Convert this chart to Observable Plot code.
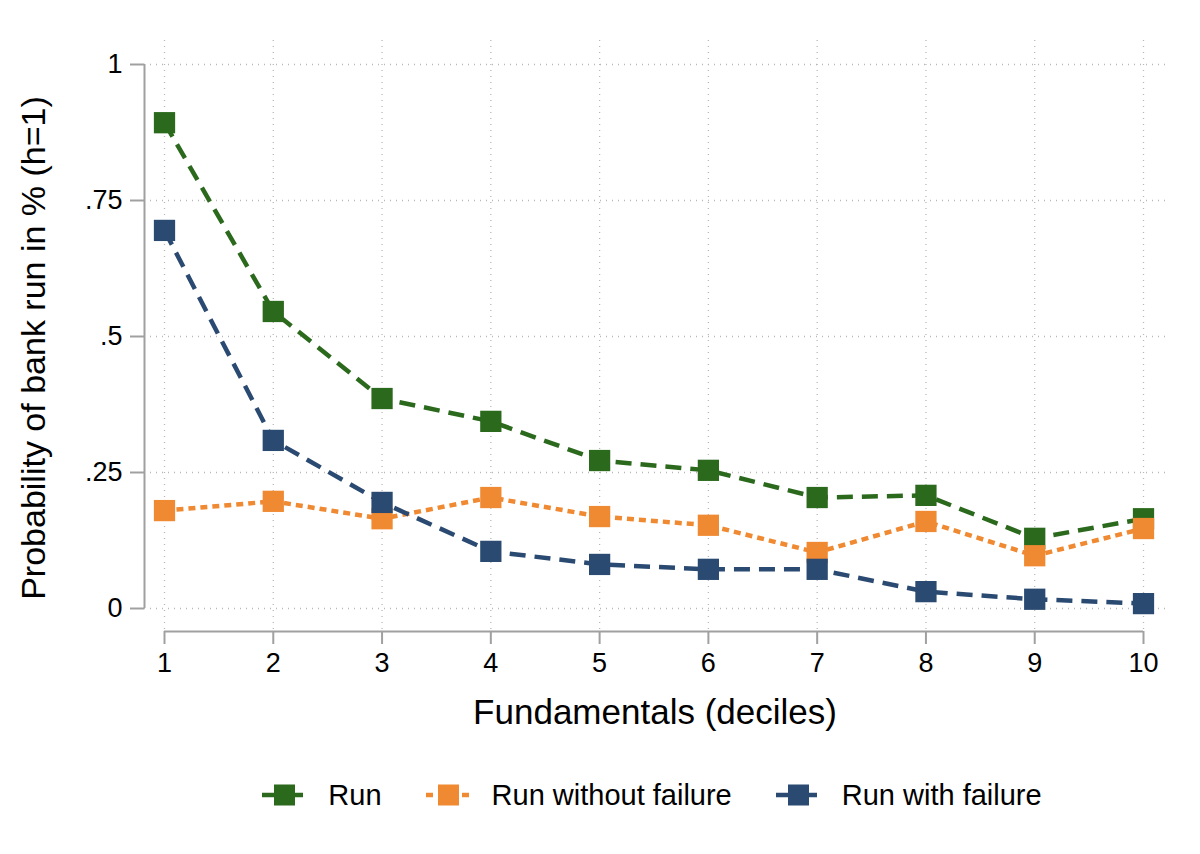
<!DOCTYPE html>
<html><head><meta charset="utf-8">
<script src="https://cdn.jsdelivr.net/npm/d3@7"></script>
<script src="https://cdn.jsdelivr.net/npm/@observablehq/plot@0.6"></script>
<style>
body{margin:0;background:#fff;font-family:"Liberation Sans",Arial,sans-serif;}
#chart svg{display:block}
#legend{display:flex;justify-content:center;margin-top:25px;font-size:29px;color:#000;height:60px;align-items:center;padding-left:104px}
.item{display:flex;align-items:center;margin:0 22px}
.item svg{margin-right:20px}
</style></head>
<body>
<div id="chart"></div>
<div id="legend"></div>
<script>
const deciles = [1,2,3,4,5,6,7,8,9,10];
const run = [0.893,0.546,0.386,0.344,0.272,0.254,0.204,0.208,0.129,0.165];
const runNoFail = [0.180,0.197,0.165,0.204,0.169,0.153,0.103,0.160,0.097,0.147];
const runFail = [0.695,0.309,0.195,0.105,0.081,0.072,0.072,0.031,0.017,0.009];
const yTicks = [0,0.25,0.5,0.75,1];
const yTickLabels = ["0",".25",".5",".75","1"];
const seriesNames = ["Run","Run without failure","Run with failure"];
const colors = ["#2b691d","#f08a32","#2a4a72"];
const dashes = ["16,9","7,5","16,9"];

const seriesVals = [run, runNoFail, runFail];
const data = seriesVals.flatMap((vals,i)=>vals.map((v,j)=>({s:seriesNames[i],x:deciles[j],y:v})));

const grid = {stroke:"#b8b8b8", strokeOpacity:1, strokeDasharray:"1,5", strokeWidth:1.3};
const chart = Plot.plot({
  width:1200, height:740,
  marginLeft:144, marginRight:35, marginTop:40, marginBottom:109,
  style:{fontFamily:"'Liberation Sans', Arial, sans-serif", background:"#fff", color:"#000"},
  x:{domain:[1,10], insetLeft:20, insetRight:22},
  y:{domain:[0,1], insetTop:24, insetBottom:23},
  marks:[
    Plot.gridX(deciles, {...grid}),
    Plot.gridY(yTicks, {...grid}),
    Plot.ruleX([1], {y1:0, y2:1, dx:-20, stroke:"#a0a0a0", strokeWidth:2}),
    Plot.ruleY([0], {x1:1, x2:10, dy:23, stroke:"#a0a0a0", strokeWidth:2}),
    Plot.axisY(yTicks, {tickFormat:()=>"", tickSize:14, stroke:"#a0a0a0", strokeWidth:2, label:null}),
    Plot.axisX(deciles, {tickFormat:()=>"", tickSize:13, stroke:"#a0a0a0", strokeWidth:2, label:null}),
    Plot.text(yTicks, {x:()=>1, y:d=>d, text:(d,i)=>yTickLabels[i], dx:-42, textAnchor:"end", lineAnchor:"middle", fontSize:27, fill:"#000"}),
    Plot.text(deciles, {x:d=>d, y:()=>0, text:d=>String(d), dy:55, textAnchor:"middle", lineAnchor:"middle", fontSize:27, fill:"#000"}),
    Plot.text(["Probability of bank run in % (h=1)"], {frameAnchor:"left", textAnchor:"middle", lineAnchor:"middle", rotate:-90, dx:-110, dy:12, fontSize:34, fill:"#000"}),
    Plot.text(["Fundamentals (deciles)"], {frameAnchor:"bottom", textAnchor:"middle", lineAnchor:"middle", dy:81, fontSize:35, fill:"#000"}),
    ...seriesNames.map((name,i)=>Plot.line(data.filter(d=>d.s===name), {x:"x", y:"y", stroke:colors[i], strokeWidth:4.5, strokeDasharray:dashes[i], strokeLinecap:"butt"})),
    ...seriesNames.map((name,i)=>Plot.dot(data.filter(d=>d.s===name), {x:"x", y:"y", symbol:"square", r:12, fill:colors[i], stroke:"none"}))
  ]
});
document.getElementById("chart").appendChild(chart);

const legend = document.getElementById("legend");
seriesNames.forEach((name,i)=>{
  const item = document.createElement("div");
  item.className="item";
  item.innerHTML = `<svg width="46" height="24"><line x1="0" y1="12" x2="46" y2="12" stroke="${colors[i]}" stroke-width="4.5" stroke-dasharray="${i===1?'7,5':'16,9'}"/><rect x="12" y="1.5" width="21" height="21" fill="${colors[i]}"/></svg><span>${name}</span>`;
  legend.appendChild(item);
});
</script>
</body></html>
